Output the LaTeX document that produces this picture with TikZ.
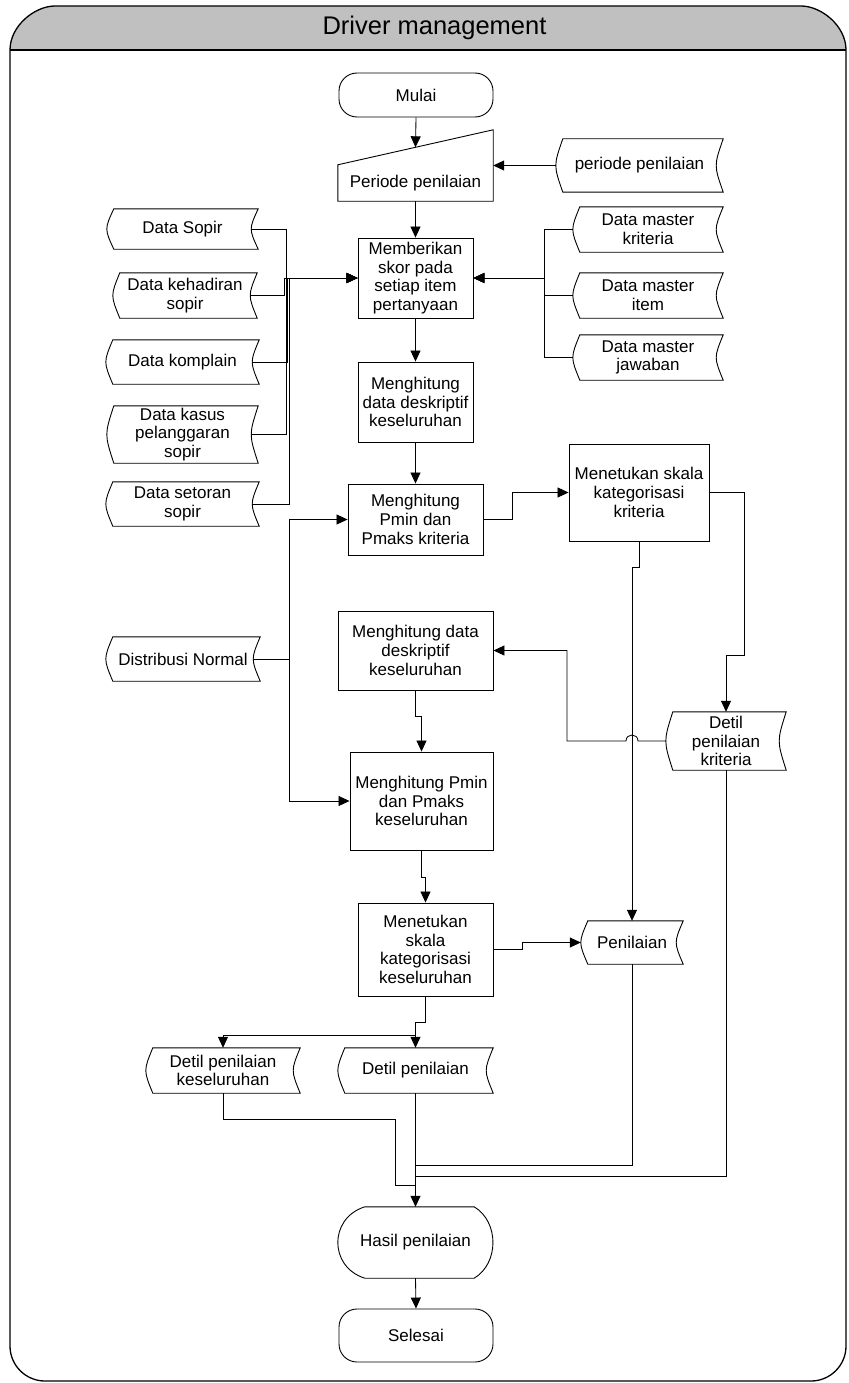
\documentclass[tikz,border=0pt]{standalone}
\usepackage{fontspec}
\setmainfont{Liberation Sans}
\usetikzlibrary{arrows.meta,calc}

% outline of a "stored data" symbol drawn around a named node
\newcommand\storeoutline[1]{%
  \draw[outline] ($(#1.north west)+(7,0)$) -- (#1.north east)
    .. controls ($(#1.east)+(-9.3,0)$) .. (#1.south east)
    -- ($(#1.south west)+(7,0)$)
    .. controls ($(#1.west)+(-2.3,0)$) .. ($(#1.north west)+(7,0)$) -- cycle;}

% outline of a "display" symbol drawn around a named node
\newcommand\displayoutline[1]{%
  \draw[outline] ($(#1.north west)+(27,0)$) -- ($(#1.north east)+(-19,0)$)
    .. controls ($(#1.north east)+(6,15)$) and ($(#1.south east)+(6,-15)$) .. ($(#1.south east)+(-19,0)$)
    -- ($(#1.south west)+(27,0)$)
    .. controls ($(#1.south west)+(8,-6)$) and ($(#1.west)+(0,14)$) .. (#1.west)
    .. controls ($(#1.west)+(0,-14)$) and ($(#1.north west)+(8,6)$) .. ($(#1.north west)+(27,0)$) -- cycle;}

\begin{document}
\begin{tikzpicture}[x=1pt,y=-1pt,
  every node/.style={font=\fontsize{17}{18.6}\selectfont, align=center, inner sep=0pt},
  outline/.style={draw=black, line width=0.9pt},
  proc/.style={draw=black, line width=0.9pt, fill=white},
  term/.style={draw=black, line width=0.9pt, rounded corners=18pt},
  store/.style={},
  conn/.style={draw=black, line width=0.85pt},
  arr/.style={conn, -{Triangle[length=11pt,width=10pt]}}]

\useasboundingbox (0,0) rectangle (848,1383);

% swimlane frame and header
\fill[fill={rgb,255:red,192;green,192;blue,192}]
  (10,50) .. controls (10,25.7) and (34.9,6) .. (55,6) -- (801,6)
  .. controls (821.1,6) and (846,25.7) .. (846,50) -- cycle;
\draw[line width=1.3pt]
  (10,50) .. controls (10,25.7) and (34.9,6) .. (55,6) -- (801,6)
  .. controls (821.1,6) and (846,25.7) .. (846,50) -- (846,1346)
  .. controls (846,1365.3) and (830.3,1381) .. (811,1381) -- (45,1381)
  .. controls (25.7,1381) and (10,1365.3) .. (10,1346) -- cycle;
\draw[line width=1.3pt] (10,50) -- (846,50);
\node[font=\fontsize{25.5}{28}\selectfont] (title) at (434.5,28) {Driver management};

% main column
\node[term, minimum width=154pt, minimum height=44pt] (mulai) at (416,95) {Mulai};

\node[minimum width=155pt, minimum height=71pt,
      label={[yshift=-18pt]center:Periode penilaian}] (periode) at (415.5,165.5) {};
\coordinate (pNW) at ($(periode.north west)+(0,35)$);
\draw[outline] (periode.south west) -- (pNW) -- (periode.north east) -- (periode.south east) -- cycle;
\coordinate (pin) at ($(pNW)!0.5!(periode.north east)$);

\node[proc, minimum width=115pt, minimum height=80pt] (memberikan) at (415.5,278)
  {Memberikan\\skor pada\\setiap item\\pertanyaan};
\node[proc, minimum width=115pt, minimum height=80pt] (desk1) at (415.5,402)
  {Menghitung\\data deskriptif\\keseluruhan};
\node[proc, minimum width=135pt, minimum height=71pt] (pminK) at (415.5,519.5)
  {Menghitung\\Pmin dan\\Pmaks kriteria};
\node[proc, minimum width=140pt, minimum height=97pt] (skalaK) at (639,492.5)
  {Menetukan skala\\kategorisasi\\kriteria};
\node[proc, minimum width=155pt, minimum height=79pt] (desk2) at (415.5,650.5)
  {Menghitung data\\deskriptif\\keseluruhan};
\node[proc, minimum width=143pt, minimum height=98pt] (pminKes) at (421.5,801)
  {Menghitung Pmin\\dan Pmaks\\keseluruhan};
\node[proc, minimum width=135pt, minimum height=93pt] (skalaKes) at (425.5,949.5)
  {Menetukan\\skala\\kategorisasi\\keseluruhan};

\node[minimum width=155pt, minimum height=71pt] (hasil) at (415.5,1242.5) {Hasil penilaian};
\displayoutline{hasil}
\node[term, minimum width=154pt, minimum height=53pt] (selesai) at (416,1335.5) {Selesai};

% stored data
\node[store, minimum width=167pt, minimum height=53pt] (periodeS) at (639.5,165.5) {periode penilaian};
\node[store, minimum width=151pt, minimum height=40pt] (sopir) at (182.5,229) {Data Sopir};
\node[store, minimum width=144pt, minimum height=45pt] (hadir) at (185,295.5) {Data kehadiran\\sopir};
\node[store, minimum width=153pt, minimum height=44pt] (komplain) at (182.5,362) {Data komplain};
\node[store, minimum width=151pt, minimum height=57pt] (kasus) at (182.5,434.5) {Data kasus\\pelanggaran\\sopir};
\node[store, minimum width=153pt, minimum height=44pt] (setoran) at (182.5,504) {Data setoran\\sopir};
\node[store, minimum width=150pt, minimum height=45pt] (mkrit) at (648,229.5) {Data master\\kriteria};
\node[store, minimum width=150pt, minimum height=45pt] (mitem) at (648,295.5) {Data master\\item};
\node[store, minimum width=150pt, minimum height=45pt] (mjawab) at (648,357.5) {Data master\\jawaban};
\node[store, minimum width=154pt, minimum height=44pt] (dist) at (183,659) {Distribusi Normal};
\node[store, minimum width=120pt, minimum height=58pt] (detK) at (726,741) {Detil\\penilaian\\kriteria};
\node[store, minimum width=102pt, minimum height=43pt] (nilai) at (632,942.5) {Penilaian};
\node[store, minimum width=154pt, minimum height=45pt] (detKes) at (223,1070.5) {Detil penilaian\\keseluruhan};
\node[store, minimum width=155pt, minimum height=45pt] (detil) at (415.5,1070.5) {Detil penilaian};

\foreach \n in {periodeS,sopir,hadir,komplain,kasus,setoran,mkrit,mitem,mjawab,dist,detK,nilai,detKes,detil}
  {\storeoutline{\n}}

% connectors
\draw[arr] (mulai.south) -- (pin);
\draw[arr] (periodeS.west) -- (periode.east);
\draw[arr] (periode.south) -- (memberikan.north);

\coordinate (busL) at ($(memberikan.west)+(-70,0)$);
\foreach \n/\dx in {sopir/-1,hadir/-3,komplain/0,kasus/-1,setoran/2}
  {\draw[arr] ([xshift=-7pt]\n.east) -| ([xshift=\dx pt]busL) -- (memberikan.west);}

\coordinate (busR) at ($(memberikan.east)+(71,0)$);
\foreach \n in {mkrit,mitem,mjawab}
  {\draw[arr] (\n.west) -| (busR) -- (memberikan.east);}

\draw[arr] (memberikan.south) -- (desk1.north);
\draw[arr] (desk1.south) -- (pminK.north);

\coordinate (busD) at ($(dist.east)+(29,0)$);
\draw[conn] ([xshift=-7pt]dist.east) -- (busD);
\draw[arr] (busD) |- (pminK.west);
\draw[arr] (busD) |- (pminKes.west);

\draw[arr] (pminK.east) -- ++(29,0) |- (skalaK.west);
\draw[arr] (skalaK.south) -- ++(0,26) -| (nilai.north);
\draw[arr] (skalaK.east) -- ++(35,0) |- ($(detK.north)+(0,-56)$) -- (detK.north);

\coordinate (hop) at (nilai.north |- detK.west);
\draw[arr] (detK.west) -- ($(hop)+(6,0)$)
  .. controls ($(hop)+(6,-8)$) and ($(hop)+(-6,-8)$) .. ($(hop)+(-6,0)$)
  -- ($(hop)+(-65,0)$) |- (desk2.east);

\draw[arr] (desk2.south) -- ++(0,26) -| (pminKes.north);
\draw[arr] (pminKes.south) -- ++(0,27) -| (skalaKes.north);
\draw[arr] (skalaKes.east) -- ++(29,0) |- (nilai.west);
\draw[arr] (skalaKes.south) -- ++(0,26) -| (detil.north);
\draw[arr] ($(detil.north)+(0,-12)$) -| (detKes.north);

\draw[arr] (detil.south) -- (hasil.north);
\draw[conn] (detKes.south) -- ++(0,26) -| ($(hasil.north)+(-20,-21)$) -- ($(hasil.north)+(0,-21)$);
\draw[conn] (nilai.south) |- ($(hasil.north)+(0,-41)$);
\draw[conn] (detK.south) |- ($(hasil.north)+(0,-30)$);
\draw[arr] (hasil.south) -- (selesai.north);

\end{tikzpicture}
\end{document}
